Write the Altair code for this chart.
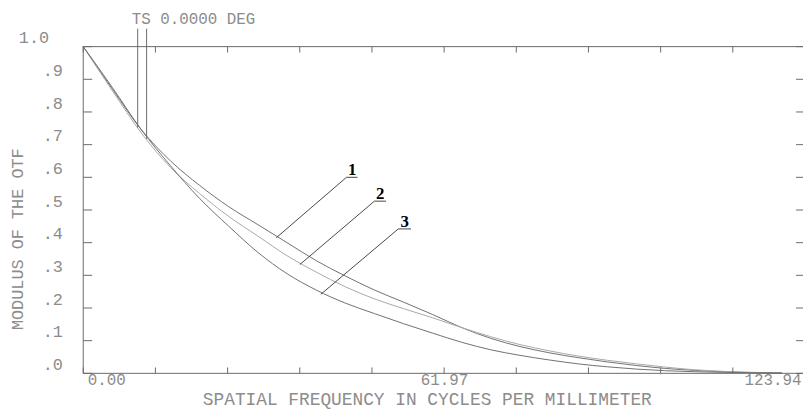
import altair as alt
import pandas as pd

# ---------------- data ----------------
FREQ = [0, 5, 10, 15, 20, 25, 30, 35, 40, 45, 50, 55, 60, 65, 70, 75, 80, 85,
        90, 95, 100, 105, 110, 115, 120]
MTF_1 = [1.0, .87, .745, .65, .575, .51, .455, .40, .345, .298, .255, .218, .18,
         .14, .107, .082, .063, .048, .035, .024, .015, .009, .005, .002, .001]
MTF_2 = [1.0, .865, .735, .63, .55, .48, .42, .36, .31, .265, .228, .198, .17,
         .14, .112, .088, .069, .053, .040, .029, .019, .011, .006, .003, .001]
MTF_3 = [1.0, .875, .745, .635, .535, .45, .37, .305, .255, .215, .183, .152, .123,
         .095, .072, .055, .041, .029, .020, .013, .008, .005, .003, .002, .001]
CURVE_NAMES = ["1", "2", "3"]

X_TICKS = [0, 12.394, 24.788, 37.182, 49.576, 61.97, 74.364, 86.758, 99.152,
           111.546, 123.94]
X_LABELS = [0, 61.97, 123.94]
Y_TICKS = [0, .1, .2, .3, .4, .5, .6, .7, .8, .9, 1.0]

# callouts: label, text anchor, underline end, point on curve
CALLOUT_TEXT = ["1", "2", "3"]
CALLOUT_TX = [46.2, 51.0, 55.2]
CALLOUT_TY = [0.606, 0.533, 0.448]
UNDER_X1 = [45.2, 50.0, 54.1]
UNDER_X2 = [47.1, 52.0, 56.3]
UNDER_Y = [0.600, 0.527, 0.442]
POINT_X = [33.15, 37.2, 40.8]
POINT_Y = [0.415, 0.333, 0.242]

# field legend "TS 0.0000 DEG" markers
TS_TEXT = "TS 0.0000 DEG"
TS_X = [9.35, 10.88]
TS_Y = [0.752, 0.718]
TS_TOP = 1.055

XMAX = 123.94
GRAY = "#8c8c8c"
MONO = "Liberation Mono"

# ---------------- tables ----------------
n = len(FREQ)
curves_df = pd.DataFrame({
    "f": FREQ * 3,
    "v": MTF_1 + MTF_2 + MTF_3,
    "curve": [CURVE_NAMES[0]] * n + [CURVE_NAMES[1]] * n + [CURVE_NAMES[2]] * n,
})

x_scale = alt.Scale(domain=[0, XMAX], range=[0, 729], nice=False, zero=False)
y_scale = alt.Scale(domain=[0, 1], nice=False, zero=False)

x_axis = alt.Axis(
    values=X_LABELS, format=".2f", domain=False, ticks=False, grid=False,
    labelFlush=True, labelFlushOffset=-4, labelPadding=11, labelFont=MONO,
    labelFontSize=16, labelColor=GRAY, labelBaseline="alphabetic",
    labelOverlap=False,
    title="SPATIAL FREQUENCY IN CYCLES PER MILLIMETER", titleFont=MONO,
    titleFontSize=18, titleFontWeight="normal", titleColor=GRAY,
    titleX=347, titleY=31, titleAlign="center", titleBaseline="alphabetic",
)
y_axis = alt.Axis(
    values=Y_TICKS, labelExpr="replace(format(datum.value, '.1f'), '0.', '.')",
    domain=False, ticks=False, grid=False,
    labelPadding={"condition": {"test": "datum.value >= 1", "value": 35}, "value": 21},
    labelFont=MONO, labelFontSize=17, labelColor=GRAY, labelBaseline="alphabetic",
    labelOffset=-4, labelOverlap=False,
    title="MODULUS OF THE OTF", titleFont=MONO, titleFontSize=17,
    titleFontWeight="normal", titleColor=GRAY, titleAngle=270, titleX=-66,
    titleY=194, titleAlign="center", titleBaseline="middle",
)


def X(field):
    return alt.X(field, scale=x_scale, axis=x_axis)


def Y(field):
    return alt.Y(field, scale=y_scale, axis=y_axis)


curves = alt.Chart(curves_df).mark_line(strokeWidth=1, interpolate="monotone").encode(
    x=X("f:Q"), y=Y("v:Q"),
    color=alt.Color("curve:N", scale=alt.Scale(domain=CURVE_NAMES,
                    range=["#707070", "#a8a8a8", "#707070"]), legend=None),
)

# frame lines
frame_df = pd.DataFrame({
    "f": [0, 0, 0], "f2": [0, XMAX, XMAX], "v": [0, 0, 1], "v2": [1, 0, 1],
})
frame = alt.Chart(frame_df).mark_rule(color="#6a6a6a", strokeWidth=1).encode(
    x=X("f:Q"), x2="f2:Q", y=Y("v:Q"), y2="v2:Q",
)

# inner ticks
tick_len_y = 0.018
tick_len_x = 1.53
bt = pd.DataFrame({"f": X_TICKS, "f2": X_TICKS, "v": [0] * len(X_TICKS),
                   "v2": [tick_len_y] * len(X_TICKS)})
tt = pd.DataFrame({"f": X_TICKS, "f2": X_TICKS, "v": [1] * len(X_TICKS),
                   "v2": [1 - tick_len_y] * len(X_TICKS)})
lt = pd.DataFrame({"f": [0] * len(Y_TICKS), "f2": [tick_len_x] * len(Y_TICKS),
                   "v": Y_TICKS, "v2": Y_TICKS})
rt = pd.DataFrame({"f": [XMAX - tick_len_x] * len(Y_TICKS),
                   "f2": [XMAX] * len(Y_TICKS), "v": Y_TICKS, "v2": Y_TICKS})
ticks_df = pd.concat([bt, tt, lt, rt], ignore_index=True)
ticks = alt.Chart(ticks_df).mark_rule(color="#6a6a6a", strokeWidth=1).encode(
    x=X("f:Q"), x2="f2:Q", y=Y("v:Q"), y2="v2:Q",
)

# callouts
leader_df = pd.DataFrame({
    "f": UNDER_X1 + UNDER_X1, "f2": UNDER_X2 + POINT_X,
    "v": UNDER_Y + UNDER_Y, "v2": UNDER_Y + POINT_Y,
})
leaders = alt.Chart(leader_df).mark_rule(color="#333333", strokeWidth=0.9).encode(
    x=X("f:Q"), x2="f2:Q", y=Y("v:Q"), y2="v2:Q",
)
labels_df = pd.DataFrame({"f": CALLOUT_TX, "v": CALLOUT_TY, "t": CALLOUT_TEXT})
labels = alt.Chart(labels_df).mark_text(
    font="Liberation Serif", fontSize=17, fontWeight="bold", color="black",
    align="center", baseline="alphabetic",
).encode(x=X("f:Q"), y=Y("v:Q"), text="t:N")

# TS legend
ts_lines_df = pd.DataFrame({"f": TS_X, "v": TS_Y, "v2": [TS_TOP] * len(TS_X)})
ts_lines = alt.Chart(ts_lines_df).mark_rule(color="#6a6a6a", strokeWidth=1).encode(
    x=X("f:Q"), y=Y("v:Q"), y2="v2:Q",
)
ts_text_df = pd.DataFrame({"f": [8.33], "v": [1.07], "t": [TS_TEXT]})
ts_text = alt.Chart(ts_text_df).mark_text(
    font=MONO, fontSize=16, color=GRAY, align="left", baseline="alphabetic",
).encode(x=X("f:Q"), y=Y("v:Q"), text="t:N")

chart = alt.layer(curves, frame, ticks, leaders, labels, ts_lines, ts_text).properties(
    width=727, height=330,
    autosize=alt.AutoSizeParams(type="none"),
    padding={"left": 76, "top": 37, "right": 0, "bottom": 34},
    background="white",
).configure_view(strokeWidth=0)

chart.save("out.html", embed_options={"renderer": "svg", "actions": False})
